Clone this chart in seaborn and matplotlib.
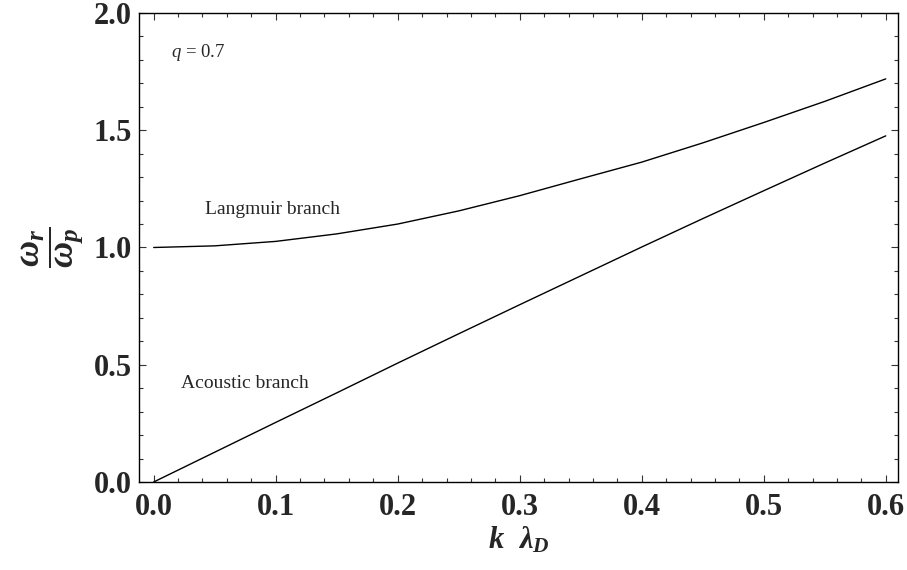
import numpy as np
import pandas as pd
import matplotlib
matplotlib.use("Agg")
import matplotlib.pyplot as plt
import seaborn as sns
from matplotlib.ticker import MultipleLocator

# values
k_vals = [0.0, 0.05, 0.10, 0.15, 0.20, 0.25, 0.30, 0.35, 0.40, 0.45, 0.50, 0.55, 0.60]
langmuir = [1.000, 1.007, 1.026, 1.058, 1.100, 1.156, 1.221, 1.293, 1.364, 1.446, 1.533, 1.623, 1.719]
acoustic = [0.000, 0.127, 0.254, 0.380, 0.507, 0.632, 0.756, 0.879, 1.002, 1.123, 1.242, 1.360, 1.476]
x_ticks = [0.0, 0.1, 0.2, 0.3, 0.4, 0.5, 0.6]
y_ticks = [0.0, 0.5, 1.0, 1.5, 2.0]

df = pd.DataFrame({
    "k": k_vals * 2,
    "w": langmuir + acoustic,
    "branch": ["Langmuir"] * len(k_vals) + ["Acoustic"] * len(k_vals),
})

sns.set_theme(style="ticks")
plt.rcParams["font.family"] = ["Liberation Serif", "DejaVu Serif"]
plt.rcParams["mathtext.fontset"] = "custom"
plt.rcParams["mathtext.it"] = "Liberation Serif:italic:bold"
plt.rcParams["mathtext.rm"] = "Liberation Serif:bold"
plt.rcParams["mathtext.bf"] = "Liberation Serif:bold"
plt.rcParams["mathtext.sf"] = "Liberation Serif:italic"

fig = plt.figure(figsize=(9.07, 5.70), dpi=100)
ax = fig.add_axes([0.1533, 0.1544, 0.8367, 0.8228])

sns.lineplot(data=df, x="k", y="w", units="branch", estimator=None,
             color="black", lw=1.0, ax=ax, legend=False)

ax.set_xlim(-0.012, 0.61)
ax.set_ylim(0, 2.0)
ax.set_xticks(x_ticks)
ax.set_yticks(y_ticks)
ax.xaxis.set_minor_locator(MultipleLocator(0.02))
ax.yaxis.set_minor_locator(MultipleLocator(0.1))
ax.set_xticklabels([f"{v:.1f}" for v in x_ticks], fontweight="bold", fontsize=22)
ax.set_yticklabels([f"{v:.1f}" for v in y_ticks], fontweight="bold", fontsize=22)
ax.tick_params(which="both", direction="in", top=True, right=True, color="#333333")
ax.tick_params(which="major", length=5, width=0.8)
ax.tick_params(which="minor", length=3, width=0.8)
ax.tick_params(axis="x", pad=8)
ax.tick_params(axis="y", pad=5)
for s in ax.spines.values():
    s.set_color("black")
    s.set_linewidth(1.0)

ax.set_xlabel(r"$k\ \ \lambda_D$", fontsize=22, labelpad=2)
ax.set_ylabel(r"$\dfrac{\omega_r}{\omega_p}$", fontsize=26, labelpad=6)

ax.text(0.014, 1.83, r"$\mathsf{q}$ = 0.7", fontsize=13.5, va="center", ha="left")
ax.text(0.042, 1.164, "Langmuir branch", fontsize=14, va="center", ha="left")
ax.text(0.0227, 0.418, "Acoustic branch", fontsize=14, va="center", ha="left")

fig.savefig("out.png", dpi=100)
